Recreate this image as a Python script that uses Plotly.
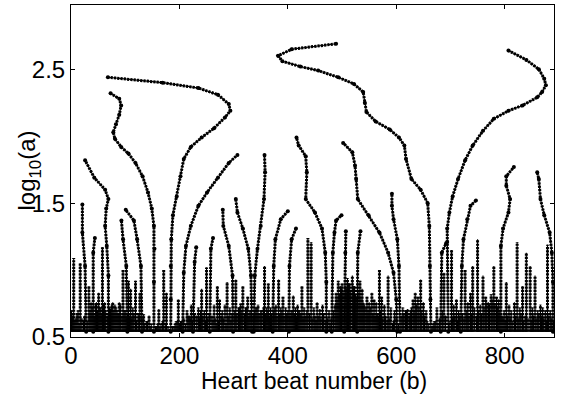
import plotly.graph_objects as go

# Wavelet-transform modulus-maxima skeleton of a heart-beat interval series.
# Each maxima line is given from the smallest scale upward as
# (beat number b, log10 of scale a).

BASE = 0.54  # smallest scale level that was computed

# --- long ridges reaching the largest scales ---
ridge_a_b = [184, 184, 184, 185, 188, 195, 202, 208, 221, 241, 264, 284, 294, 291, 271, 235, 169, 68]
ridge_a_s = [0.54, 0.78, 1.03, 1.23, 1.41, 1.55, 1.70, 1.83, 1.92, 1.99, 2.06, 2.14, 2.19, 2.24, 2.31, 2.36, 2.40, 2.44]

ridge_b_b = [153, 153, 154, 153, 149, 142, 132, 119, 106, 92.5, 81, 78, 83, 89, 92.5, 89, 73]
ridge_b_s = [0.54, 0.91, 1.16, 1.33, 1.46, 1.58, 1.70, 1.80, 1.87, 1.92, 1.98, 2.03, 2.09, 2.16, 2.23, 2.28, 2.32]

ridge_c_b = [664, 663, 662, 661, 658, 645, 628, 618, 615, 605, 588, 562, 545, 542, 539, 522, 493, 456, 423, 390, 382, 407, 489]
ridge_c_s = [0.54, 0.78, 1.03, 1.33, 1.50, 1.60, 1.68, 1.83, 1.93, 1.99, 2.05, 2.11, 2.18, 2.25, 2.33, 2.39, 2.44, 2.49, 2.52, 2.56, 2.60, 2.65, 2.69]

ridge_d_b = [696, 694, 694, 698, 704, 714, 727, 741, 760, 780, 807, 833, 860, 869, 876, 873, 863, 840, 807]
ridge_d_s = [0.54, 1.21, 1.31, 1.43, 1.55, 1.68, 1.82, 1.93, 2.04, 2.13, 2.19, 2.23, 2.29, 2.33, 2.38, 2.43, 2.50, 2.57, 2.64]

# --- intermediate branches ---
branches = [
    ([69, 69, 66, 63, 65, 69, 63, 43, 26], [0.54, 0.96, 1.18, 1.33, 1.46, 1.53, 1.60, 1.69, 1.82]),
    ([206, 208, 212, 221, 235, 251, 271, 291, 307], [0.54, 0.98, 1.18, 1.33, 1.48, 1.58, 1.69, 1.80, 1.86]),
    ([337, 339, 344, 350, 356, 358, 357], [0.54, 0.96, 1.16, 1.33, 1.53, 1.73, 1.86]),
    ([471, 471, 469, 463, 450, 433, 435, 433, 420, 416], [0.54, 0.91, 1.13, 1.31, 1.43, 1.53, 1.73, 1.85, 1.93, 1.99]),
    ([602, 600, 595, 585, 569, 549, 529, 526, 524, 519, 502], [0.54, 0.78, 0.98, 1.13, 1.28, 1.41, 1.53, 1.68, 1.78, 1.88, 1.95]),
    ([889, 889, 887, 883, 873, 866, 863, 860], [0.54, 0.91, 1.13, 1.28, 1.41, 1.53, 1.68, 1.73]),
    ([793, 793, 797, 807, 810, 803, 803, 817], [0.54, 1.18, 1.31, 1.43, 1.53, 1.63, 1.70, 1.77]),
    ([607, 605, 602, 595, 592, 592], [0.54, 1.03, 1.23, 1.38, 1.48, 1.57]),
    ([719, 721, 724, 731, 737, 747], [0.54, 1.03, 1.23, 1.38, 1.48, 1.52]),
    ([481, 483, 486, 489, 499], [0.54, 1.13, 1.28, 1.37, 1.41]),
    ([334, 332, 327, 317, 307, 304], [0.54, 0.96, 1.16, 1.31, 1.43, 1.53]),
    ([372, 374, 377, 387, 400], [0.54, 1.03, 1.23, 1.38, 1.44]),
    ([299, 298, 291, 281, 280], [0.54, 0.96, 1.18, 1.33, 1.45]),
    ([131, 129, 122, 116, 101], [0.54, 1.03, 1.23, 1.37, 1.45]),
    ([104, 102, 96, 93], [0.54, 1.03, 1.23, 1.37]),
    ([28, 26, 21, 21], [0.54, 1.03, 1.28, 1.49]),
    ([402, 403, 407, 415], [0.54, 1.03, 1.23, 1.31]),
    ([504, 506, 507], [0.54, 1.13, 1.29]),
    ([528, 529, 534], [0.54, 1.13, 1.29]),
    ([682, 684, 692], [0.54, 1.13, 1.20]),
    ([41, 41, 44], [0.54, 1.13, 1.24]),
    ([225, 228, 231], [0.54, 1.06, 1.17]),
    ([256, 258, 262], [0.54, 1.16, 1.24]),
]

# --- short maxima lines at small scales: beat number and top scale ---
stub_b = [1, 5, 9, 13, 17, 23, 33, 37, 47, 51, 55, 58, 62, 73, 77, 81, 85, 89, 96, 100,
          106, 110, 114, 119, 124, 127, 134, 139, 144, 148, 158, 162, 166, 171, 176, 179, 190, 194, 198, 202,
          214, 218, 222, 235, 241, 246, 250, 264, 270, 274, 279, 284, 288, 293, 304, 309, 313, 317, 322, 326,
          330, 341, 345, 350, 357, 361, 364, 368, 378, 383, 387, 391, 396, 406, 410, 414, 418, 422, 426, 430,
          437, 443, 448, 454, 459, 464, 476, 489, 493, 497, 500, 510, 514, 519, 523, 533, 537, 546, 550, 555,
          559, 563, 569, 573, 578, 585, 590, 597, 612, 617, 621, 626, 631, 635, 640, 645, 650, 655, 670, 675,
          688, 702, 706, 711, 715, 727, 732, 737, 741, 750, 755, 760, 765, 770, 775, 780, 785, 789, 799, 803,
          808, 812, 818, 823, 828, 833, 840, 847, 851, 856, 861, 866, 870, 875, 879, 884]
stub_top = [0.70, 1.09, 0.64, 0.70, 1.05, 0.62, 0.88, 0.76, 0.76, 0.83, 0.72, 1.17, 0.76, 0.71, 0.76, 0.74, 0.70, 0.76, 1.00, 0.70,
            0.92, 0.86, 0.72, 0.92, 0.68, 0.83, 0.67, 0.62, 0.66, 0.60, 0.58, 0.71, 0.60, 1.00, 0.83, 0.58, 0.58, 0.62, 0.78, 0.62,
            0.70, 0.66, 0.74, 0.72, 0.86, 0.70, 1.02, 0.74, 0.88, 0.78, 0.70, 0.74, 0.91, 0.72, 0.93, 0.72, 0.75, 0.88, 0.72, 0.80,
            0.70, 0.72, 0.74, 0.70, 1.03, 0.72, 0.90, 0.72, 0.74, 0.93, 0.72, 0.80, 0.72, 0.70, 0.81, 0.72, 0.74, 0.70, 0.88, 0.72,
            1.24, 1.21, 0.72, 0.76, 0.71, 0.74, 0.70, 0.83, 0.92, 0.88, 0.90, 0.94, 0.90, 0.96, 0.88, 0.92, 0.86, 0.80, 0.76, 0.83,
            0.78, 0.76, 1.00, 0.80, 0.74, 0.96, 0.72, 0.70, 0.72, 0.70, 0.71, 0.70, 0.78, 0.83, 0.80, 0.93, 0.76, 0.70, 0.62, 0.72,
            0.98, 1.15, 0.74, 0.78, 0.70, 1.00, 0.76, 0.83, 1.03, 1.23, 0.74, 0.96, 0.80, 0.76, 0.82, 1.03, 0.80, 0.78, 0.70, 0.91,
            0.74, 0.70, 0.76, 1.21, 0.72, 0.88, 1.13, 1.03, 0.72, 0.96, 0.70, 0.74, 0.72, 0.70, 1.19, 0.70]

# --- the very shortest lines that crowd the smallest scales ---
low_stubs = [
    (3, 0.66), (7, 0.62), (11, 0.68), (15, 0.60), (20, 0.64), (25, 0.66), (30, 0.62),
    (35, 0.70), (39, 0.72), (43, 0.66), (45, 0.74), (49, 0.70), (53, 0.72), (57, 0.68), (60, 0.74), (64, 0.70), (67, 0.66),
    (71, 0.72), (75, 0.74), (79, 0.70), (83, 0.72), (87, 0.68), (91, 0.74), (94, 0.66), (98, 0.70), (102, 0.64), (104, 0.68),
    (108, 0.66), (112, 0.64), (116, 0.68), (121, 0.62), (126, 0.66), (131, 0.64), (136, 0.60), (141, 0.62), (146, 0.58),
    (151, 0.56), (156, 0.58), (160, 0.60), (164, 0.57), (169, 0.62), (174, 0.60), (182, 0.56), (187, 0.58), (192, 0.60), (196, 0.62), (200, 0.60),
    (204, 0.62), (208, 0.64), (211, 0.60), (216, 0.66), (220, 0.64), (224, 0.62), (228, 0.68), (232, 0.66), (237, 0.64),
    (239, 0.70), (243, 0.66), (248, 0.62), (252, 0.64), (255, 0.68), (260, 0.66), (262, 0.62), (266, 0.64), (268, 0.60),
    (272, 0.62), (277, 0.66), (281, 0.64), (286, 0.60), (290, 0.66), (295, 0.62), (297, 0.68), (302, 0.70), (306, 0.68),
    (311, 0.72), (315, 0.70), (320, 0.68), (324, 0.72), (328, 0.66), (332, 0.70), (336, 0.68),
    (339, 0.70), (343, 0.72), (347, 0.68), (352, 0.70), (355, 0.72), (359, 0.68), (363, 0.70), (366, 0.66), (370, 0.68),
    (374, 0.70), (376, 0.72), (380, 0.66), (385, 0.68), (389, 0.70), (393, 0.66), (398, 0.68), (400, 0.70),
    (404, 0.66), (408, 0.70), (412, 0.68), (416, 0.66), (420, 0.70), (424, 0.68), (428, 0.64), (432, 0.66), (435, 0.70),
    (440, 0.68), (445, 0.64), (450, 0.66), (452, 0.62), (456, 0.66), (461, 0.64), (466, 0.68), (469, 0.62), (473, 0.64),
    (478, 0.60), (480, 0.64),
    (484, 0.70), (487, 0.74), (491, 0.78), (495, 0.82), (499, 0.86), (502, 0.84), (506, 0.88), (508, 0.86), (512, 0.90),
    (516, 0.84), (521, 0.88), (525, 0.82), (527, 0.80), (531, 0.84), (535, 0.78), (539, 0.76), (541, 0.74), (544, 0.72),
    (548, 0.70), (552, 0.72), (557, 0.68), (561, 0.66),
    (565, 0.68), (567, 0.66), (571, 0.70), (575, 0.64), (580, 0.66), (583, 0.62), (587, 0.64), (593, 0.60), (595, 0.62),
    (600, 0.64), (604, 0.60), (609, 0.66), (614, 0.68), (619, 0.70), (624, 0.66), (628, 0.72), (633, 0.70), (637, 0.74),
    (642, 0.72), (647, 0.70), (652, 0.66), (657, 0.62), (660, 0.60),
    (666, 0.58), (668, 0.60), (672, 0.62), (677, 0.60), (680, 0.64), (685, 0.70), (691, 0.66), (697, 0.60), (699, 0.62),
    (704, 0.64), (708, 0.66), (713, 0.62), (717, 0.66), (722, 0.68), (725, 0.64), (730, 0.70), (734, 0.66), (739, 0.68),
    (744, 0.72), (748, 0.66), (752, 0.70), (757, 0.68), (762, 0.72), (767, 0.76), (772, 0.74), (777, 0.78), (782, 0.74),
    (787, 0.72), (791, 0.70), (795, 0.66), (797, 0.64),
    (801, 0.62), (805, 0.66), (810, 0.64), (815, 0.62), (820, 0.66), (825, 0.64), (830, 0.68), (835, 0.62), (838, 0.66),
    (843, 0.64), (849, 0.62), (853, 0.66), (858, 0.64), (863, 0.68), (868, 0.66), (872, 0.64), (877, 0.62), (881, 0.66),
    (886, 0.64), (890, 0.62),
]

x_ticks = [0, 200, 400, 600, 800]
y_ticks = [0.5, 1.5, 2.5]

# collect every maxima line as one path, each starting at the small-scale end
lines = [(ridge_a_b, ridge_a_s), (ridge_b_b, ridge_b_s), (ridge_c_b, ridge_c_s), (ridge_d_b, ridge_d_s)]
lines += branches
lines += [([b, b], [BASE, t]) for b, t in zip(stub_b, stub_top)]
lines += [([b, b], [BASE, t]) for b, t in low_stubs]

path_x, path_y = [], []
for bs, ss in lines:
    path_x += list(bs) + [None]
    path_y += list(ss) + [None]

vert_x, vert_y = [], []
for bs, ss in lines[:4] + branches:
    vert_x += list(bs)
    vert_y += list(ss)

fig = go.Figure()
# thin connecting stroke
fig.add_trace(go.Scatter(x=path_x, y=path_y, mode="lines",
                         line=dict(color="black", width=1.1),
                         hoverinfo="skip", showlegend=False))
# beaded stroke: one bead per scale step
fig.add_trace(go.Scatter(x=path_x, y=path_y, mode="lines",
                         line=dict(color="black", width=3.0, dash="2.2px,1.1px"),
                         hoverinfo="skip", showlegend=False))
fig.add_trace(go.Scatter(x=vert_x, y=vert_y, mode="markers",
                         marker=dict(color="black", size=4),
                         hoverinfo="skip", showlegend=False))

axis_font = dict(family="Liberation Sans, Arial, sans-serif", size=24, color="black")
title_font = dict(family="Liberation Sans, Arial, sans-serif", size=23, color="black")
fig.update_xaxes(range=[0, 891], tickvals=x_ticks, ticktext=[str(v) for v in x_ticks],
                 ticks="inside", ticklen=4, tickwidth=1, tickcolor="black",
                 showline=True, linecolor="black", linewidth=1, mirror="ticks",
                 showgrid=False, zeroline=False, tickfont=axis_font, ticklabelstandoff=-3)
fig.update_yaxes(range=[0.5, 2.98], tickvals=y_ticks, ticktext=[str(v) for v in y_ticks],
                 ticks="inside", ticklen=4, tickwidth=1, tickcolor="black",
                 showline=True, linecolor="black", linewidth=1, mirror="ticks",
                 showgrid=False, zeroline=False, tickfont=axis_font)

fig.add_annotation(text="Heart beat number (b)", xref="paper", yref="paper",
                   x=0.504, y=-0.0904, xanchor="center", yanchor="top",
                   showarrow=False, borderpad=0, font=title_font)
fig.add_annotation(text="log<sub>10</sub>(a)", xref="paper", yref="paper",
                   x=-0.088, y=0.503, xanchor="center", yanchor="middle",
                   textangle=-90, showarrow=False, font=axis_font)

fig.update_layout(width=562, height=395, margin=dict(l=71, r=8, t=5, b=58),
                  paper_bgcolor="white", plot_bgcolor="white")

fig.write_html("out.html")
